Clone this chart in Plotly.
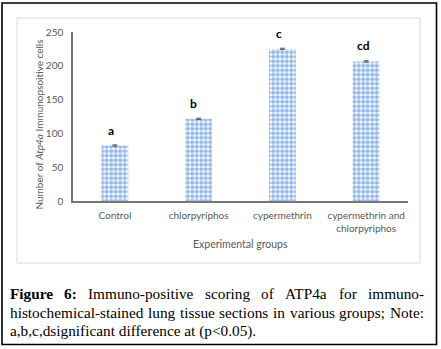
import plotly.graph_objects as go

# ---- data ----
groups = ["Control", "chlorpyriphos", "cypermethrin", "cypermethrin and<br>chlorpyriphos"]
values = [82, 121.5, 225, 206.5]
errors = [1, 1, 1, 1]
letters = ["a", "b", "c", "cd"]
y_ticks = [0, 50, 100, 150, 200, 250]
y_title = "Number of <i>Atp4a</i> Immunopsoitive cells"
x_title = "Experimental groups"
caption_line1 = [("Figure", True), ("6:", True), ("Immuno-positive", False), ("scoring", False),
                 ("of", False), ("ATP4a", False), ("for", False), ("immuno-", False)]
caption_line2 = [(w, False) for w in ["histochemical-stained", "lung", "tissue", "sections",
                                      "in", "various", "groups;", "Note:"]]
caption_line3 = "a,b,c,dsignificant difference at (p&lt;0.05)."

W, H = 441, 349
L, R, T, B = 73, 408, 32, 201  # plot area in pixels

def px(x):
    return (x - L) / (R - L)

def py(y):
    return (B - y) / (B - T)

BLUE = "#2a74d4"
GRAY = "#595959"
FONT = "Lato"
SERIF = "Liberation Serif"

fig = go.Figure()
fig.add_trace(go.Bar(
    x=groups, y=values, width=0.32,
    marker=dict(color="white", line=dict(width=0),
                pattern=dict(shape=".", fgcolor=BLUE, bgcolor="white", size=4.5, solidity=0.65)),
    error_y=dict(type="data", array=errors, color="#595959", thickness=1, width=2.5),
    showlegend=False, hoverinfo="skip",
))

annotations = []
for g, v, t, dx in zip(groups, values, letters, [-4, -5, -3, -3]):
    annotations.append(dict(x=g, y=v, text=f"<b>{t}</b>", showarrow=False, yanchor="bottom",
                            xanchor="center", yshift=6, xshift=dx,
                            font=dict(family=FONT, size=12, color="#000000")))

annotations.append(dict(xref="paper", yref="paper", x=px(240.5), y=py(244), text=x_title,
                        xanchor="center", yanchor="middle",
                        showarrow=False, font=dict(family=FONT, size=10.5, color=GRAY)))
annotations.append(dict(xref="paper", yref="paper", x=px(38), y=py(124.5), text=y_title,
                        xanchor="center", yanchor="middle",
                        textangle=-90, showarrow=False, font=dict(family=FONT, size=10, color=GRAY)))

# caption (justified with Times metrics)
reg = dict(zip(" (),-.0123456789:;<", [250, 333, 333, 250, 333, 250] + [500] * 10 + [278, 278, 564]))
reg.update(dict(zip("ABCDEFGHIJKLMNOPQRSTUVWXYZ",
                    [722, 667, 667, 722, 611, 556, 722, 722, 333, 389, 722, 611, 889, 722, 722, 556,
                     722, 667, 556, 611, 722, 722, 944, 722, 722, 611])))
reg.update(dict(zip("abcdefghijklmnopqrstuvwxyz",
                    [444, 500, 444, 500, 444, 333, 500, 500, 278, 278, 500, 278, 778, 500, 500, 500,
                     500, 333, 389, 278, 500, 500, 722, 500, 500, 444])))
bold = dict(reg)
bold.update({"F": 611, "u": 556, "r": 444, ":": 333})
CS = 15.3

def wwidth(word, b):
    tbl = bold if b else reg
    return sum(tbl.get(c, 500) for c in word) * CS / 1000

def justify(words, ycen, left=8, right=422):
    widths = [wwidth(w, b) for w, b in words]
    gap = (right - left - sum(widths)) / (len(words) - 1)
    x = left
    for (w, b), wd in zip(words, widths):
        annotations.append(dict(xref="paper", yref="paper", x=px(x), y=py(ycen), xanchor="left",
                                yanchor="middle", text=f"<b>{w}</b>" if b else w, showarrow=False,
                                font=dict(family=SERIF, size=CS, color="#000000")))
        x += wd + gap

justify(caption_line1, 293)
justify(caption_line2, 312)
annotations.append(dict(xref="paper", yref="paper", x=px(8), y=py(331), xanchor="left",
                        yanchor="middle", text=caption_line3, showarrow=False,
                        font=dict(family=SERIF, size=CS, color="#000000")))

shapes = [
    dict(type="rect", xref="paper", yref="paper", x0=px(17), x1=px(420), y0=py(18), y1=py(263),
         line=dict(color="#d9d9d9", width=1), layer="below"),
    dict(type="rect", xref="paper", yref="paper", x0=px(2), x1=px(436.5), y0=py(3), y1=py(344.5),
         line=dict(color="#000000", width=1.6)),
]

fig.update_layout(
    width=W, height=H,
    margin=dict(l=L, r=W - R, t=T, b=H - B, pad=0),
    paper_bgcolor="white", plot_bgcolor="white",
    annotations=annotations, shapes=shapes,
    xaxis=dict(showline=True, linecolor="#767676", linewidth=1.5, showgrid=False, ticks="",
               tickfont=dict(family=FONT, size=10, color=GRAY), ticklabelstandoff=4,
               fixedrange=True),
    yaxis=dict(range=[0, 250], tickvals=y_ticks, showline=True, linecolor="#767676", linewidth=1.5,
               showgrid=False, zeroline=False, ticks="", ticklabelstandoff=6,
               tickfont=dict(family=FONT, size=10, color=GRAY), fixedrange=True),
    bargap=0.68,
)

fig.write_html("out.html", config={"displayModeBar": False},
               post_script="document.body.style.margin='0';")
